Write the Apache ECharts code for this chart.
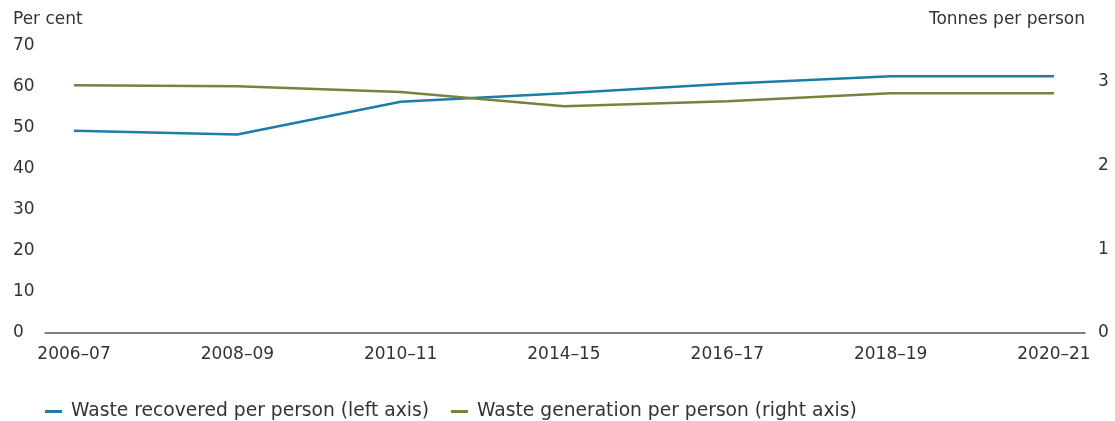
<!DOCTYPE html>
<html>
<head>
<meta charset="utf-8">
<script src="https://cdn.jsdelivr.net/npm/echarts@6/dist/echarts.min.js"></script>
<style>
    html, body { margin: 0; padding: 0; background: #fff; }
    #chart { width: 1115px; height: 421px; }
</style>
</head>
<body>
<div id="chart"></div>
<script>
    // 数据
    let categories = ['2006–07', '2008–09', '2010–11', '2014–15', '2016–17', '2018–19', '2020–21']
    let recovered = [49.3, 48.4, 56.4, 58.5, 60.8, 62.6, 62.6]
    let generation = [2.96, 2.95, 2.88, 2.71, 2.77, 2.865, 2.865]
    let leftTicks = [0, 10, 20, 30, 40, 50, 60, 70]
    let rightTicks = [0, 1, 2, 3]

    let fontFamily = '"DejaVu Sans", "Noto Sans", sans-serif'
    let textColor = '#333'
    let blue = '#1b7da8'
    let green = '#76833f'

    let myChart = echarts.init(document.getElementById('chart'))

    let option = {
        animation: false,
        textStyle: { fontFamily: fontFamily },
        grid: {
            left: 45,
            right: 30,
            top: 46,
            bottom: 88
        },
        xAxis: {
            type: 'value',
            min: -0.1776,
            max: 6.19,
            splitLine: { show: false },
            axisTick: { show: false },
            axisLine: {
                show: true,
                onZero: false,
                lineStyle: { color: '#555', width: 1.5 }
            },
            axisLabel: {
                customValues: categories.map((c, i) => i),
                formatter: (v) => categories[Math.round(v)],
                color: textColor,
                fontSize: 17,
                margin: 13
            }
        },
        yAxis: [{
            type: 'value',
            position: 'left',
            min: 0,
            max: 70,
            interval: 10,
            splitLine: { show: false },
            axisLine: { show: false },
            axisTick: { show: false },
            axisLabel: {
                customValues: leftTicks,
                color: textColor,
                fontSize: 17,
                align: 'left',
                margin: 32
            }
        }, {
            type: 'value',
            position: 'right',
            min: 0,
            max: 3.43,
            splitLine: { show: false },
            axisLine: { show: false },
            axisTick: { show: false },
            axisLabel: {
                customValues: rightTicks,
                color: textColor,
                fontSize: 17,
                align: 'left',
                margin: 13
            }
        }],
        graphic: [{
            type: 'text',
            left: 13,
            top: 11,
            style: { text: 'Per cent', fill: textColor, font: '17px ' + fontFamily }
        }, {
            type: 'text',
            right: 30,
            top: 11,
            style: { text: 'Tonnes per person', fill: textColor, font: '17px ' + fontFamily }
        }],
        legend: {
            left: 40,
            top: 397,
            icon: 'rect',
            itemWidth: 17,
            itemHeight: 3,
            itemGap: 22,
            textStyle: {
                color: textColor,
                fontSize: 18.7,
                padding: [0, 0, 0, 4]
            },
            data: ['Waste recovered per person (left axis)', 'Waste generation per person (right axis)']
        },
        series: [{
            name: 'Waste recovered per person (left axis)',
            type: 'line',
            yAxisIndex: 0,
            symbol: 'none',
            color: blue,
            lineStyle: { width: 2.5, color: blue },
            data: recovered.map((v, i) => [i, v])
        }, {
            name: 'Waste generation per person (right axis)',
            type: 'line',
            yAxisIndex: 1,
            symbol: 'none',
            color: green,
            lineStyle: { width: 2.5, color: green },
            data: generation.map((v, i) => [i, v])
        }]
    }
    myChart.setOption(option)

    window.addEventListener('resize', () => {
        myChart.resize()
    })
</script>
</body>
</html>
